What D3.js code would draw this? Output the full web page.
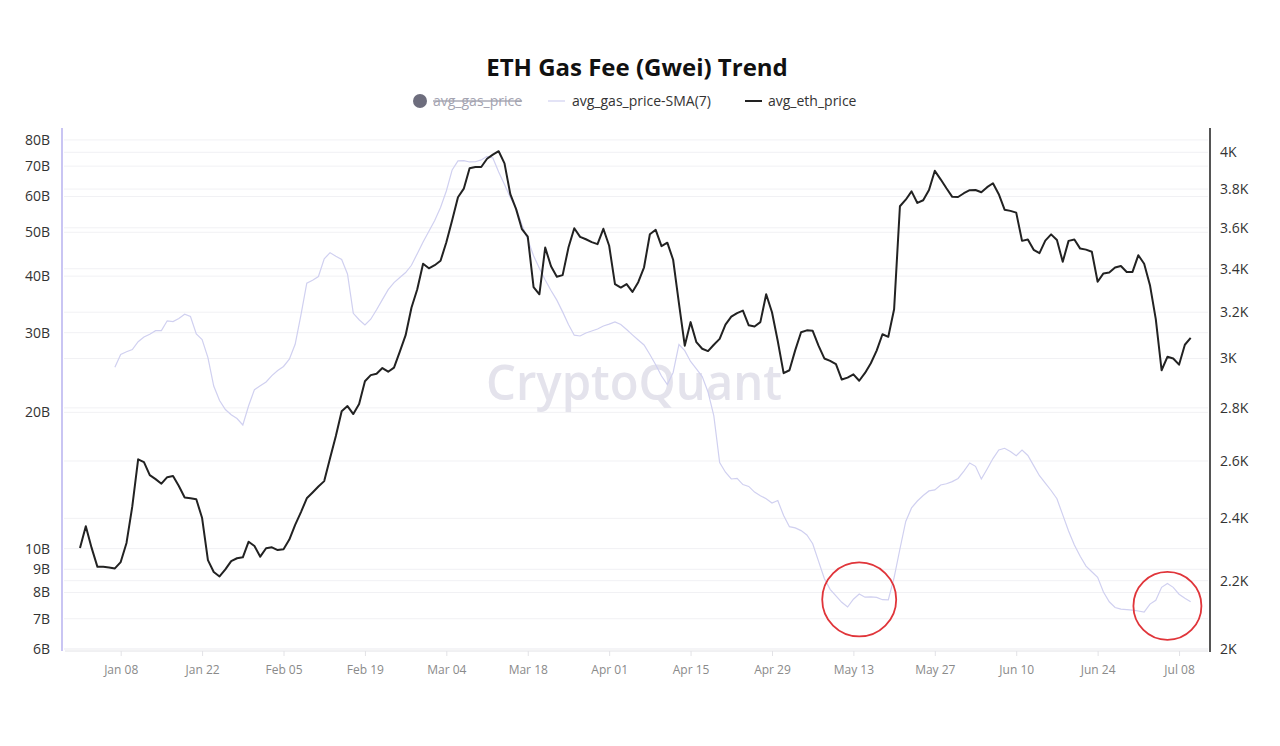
<!DOCTYPE html>
<html><head><meta charset="utf-8">
<script src="https://cdn.jsdelivr.net/npm/d3@7"></script>
<style>
body{margin:0;background:#fff;}
svg{display:block;font-family:"Open Sans","Noto Sans",sans-serif;}
</style></head><body>
<svg id="chart" width="1280" height="746"></svg>
<script>
// ---------------- data ----------------
const firstDay = [2024, 0, 1]; // daily series start (Jan 1, 2024)
const ethPrice = [
2303,2374,2303,2243,2243,2241,2238,2258,2319,2441,
2606,2596,2549,2535,2519,2542,2546,2511,2471,2468,
2465,2401,2264,2227,2213,2235,2261,2270,2273,2323,
2309,2275,2302,2305,2296,2299,2330,2378,2421,2468,
2488,2509,2528,2610,2692,2787,2807,2776,2815,2906,
2931,2937,2960,2945,2962,3029,3099,3220,3304,3424,
3402,3417,3438,3528,3638,3757,3802,3912,3919,3919,
3964,3987,4006,3939,3773,3695,3593,3556,3314,3281,
3502,3412,3362,3370,3502,3598,3555,3543,3529,3519,
3595,3511,3328,3312,3328,3292,3337,3407,3568,3590,
3509,3526,3443,3240,3054,3156,3069,3041,3031,3058,
3083,3145,3180,3196,3207,3142,3137,3156,3281,3200,
3073,2939,2951,3035,3112,3120,3118,3054,3000,2990,
2976,2913,2921,2934,2908,2940,2980,3033,3103,3092,
3213,3710,3744,3788,3727,3741,3795,3898,3852,3804,
3759,3758,3778,3794,3795,3783,3810,3831,3773,3692,
3686,3677,3535,3542,3491,3475,3536,3567,3539,3433,
3535,3542,3497,3492,3482,3339,3378,3382,3406,3413,
3385,3385,3465,3424,3323,3169,2951,3007,3000,2974,
3058,3087
];
const gasSMA = [
null,null,null,null,null,null,25.16,26.85,27.22,27.54,
28.66,29.35,29.77,30.31,30.31,31.87,31.74,32.25,32.96,32.58,
29.80,28.98,26.42,22.87,21.25,20.29,19.76,19.38,18.76,20.68,
22.45,22.89,23.34,24.12,24.75,25.26,26.22,28.28,32.83,38.60,
39.17,39.93,43.68,45.08,44.28,43.54,40.45,33.11,32.04,31.20,
32.13,33.72,35.50,37.34,38.71,39.73,40.74,42.28,44.85,47.57,
50.26,53.10,56.73,61.70,68.66,71.88,71.99,71.51,71.59,72.25,
73.58,72.99,67.97,63.78,59.67,56.45,51.95,48.16,44.37,41.64,
39.23,37.17,35.40,33.35,31.28,29.62,29.50,29.95,30.26,30.57,
31.04,31.33,31.68,31.28,30.48,29.67,28.91,28.18,26.85,25.48,
24.07,23.05,24.50,28.25,27.38,25.91,24.94,24.00,22.19,19.64,
15.50,14.75,14.25,14.29,13.85,13.72,13.33,13.09,12.89,12.61,
12.77,11.83,11.18,11.11,10.96,10.72,10.25,9.38,8.59,8.13,
7.86,7.61,7.43,7.73,7.94,7.81,7.82,7.80,7.71,7.70,
8.63,9.98,11.48,12.30,12.74,13.10,13.41,13.48,13.82,13.91,
14.06,14.29,14.84,15.46,15.20,14.25,14.99,15.81,16.52,16.66,
16.39,16.05,16.50,16.06,15.25,14.49,13.96,13.44,12.89,11.87,
10.94,10.19,9.62,9.15,8.89,8.64,8.02,7.63,7.41,7.35,
7.33,7.31,7.28,7.24,7.54,7.69,8.21,8.37,8.21,7.93,
7.77,7.63
];
const gasTicks = [6,7,8,9,10,20,30,40,50,60,70,80];
const ethTicks = [2000,2200,2400,2600,2800,3000,3200,3400,3600,3800,4000];
const ethTickLabels = ["2K","2.2K","2.4K","2.6K","2.8K","3K","3.2K","3.4K","3.6K","3.8K","4K"];
const xTickDates = ["2024-01-08","2024-01-22","2024-02-05","2024-02-19","2024-03-04","2024-03-18","2024-04-01","2024-04-15","2024-04-29","2024-05-13","2024-05-27","2024-06-10","2024-06-24","2024-07-08"];
const xTickLabels = ["Jan 08","Jan 22","Feb 05","Feb 19","Mar 04","Mar 18","Apr 01","Apr 15","Apr 29","May 13","May 27","Jun 10","Jun 24","Jul 08"];
const highlightDates = ["2024-05-14","2024-07-06"];
const highlightGas = [7.72, 7.47];
const titleText = "ETH Gas Fee (Gwei) Trend";
const legendNames = ["avg_gas_price","avg_gas_price-SMA(7)","avg_eth_price"];

// ---------------- chart ----------------
const svg = d3.select("#chart");
const L = 64, R = 1208, T = 128, B = 649;
const parse = s => { const [y,m,d] = s.split("-").map(Number); return new Date(y, m-1, d); };
const dayDate = i => new Date(firstDay[0], firstDay[1], firstDay[2] + i);

const x = d3.scaleTime()
  .domain([new Date(2023, 11, 29, 6), new Date(2024, 6, 12, 23, 30)])
  .range([L, R]);
const yGas = d3.scaleLog().domain([6, 85]).range([B, T]);
const yEth = d3.scaleLog().domain([2000, 4138]).range([B, T]);

// gridlines
const grid = svg.append("g");
gasTicks.forEach(v => grid.append("line").attr("x1", L).attr("x2", R)
  .attr("y1", yGas(v)).attr("y2", yGas(v)).attr("stroke", "#f1f1f4").attr("stroke-width", 1));
ethTicks.forEach(v => grid.append("line").attr("x1", L).attr("x2", R)
  .attr("y1", yEth(v)).attr("y2", yEth(v)).attr("stroke", "#f1f1f4").attr("stroke-width", 1));

// watermark
svg.append("text").attr("x", 634).attr("y", 400).attr("text-anchor", "middle")
  .attr("font-size", 49).attr("font-weight", 600).attr("fill", "#e4e3ec")
  .attr("textLength", 296).attr("lengthAdjust", "spacingAndGlyphs")
  .text("CryptoQuant");

// x axis
const xAxis = d3.axisBottom(x).tickValues(xTickDates.map(parse))
  .tickFormat((d, i) => xTickLabels[i]).tickSize(5).tickPadding(9);
const gx = svg.append("g").attr("transform", `translate(0,${B + 2})`).call(xAxis);
gx.select(".domain").attr("stroke", "#e2e2e6").attr("d", `M${L+1},0H${R}`);
gx.selectAll(".tick line").attr("stroke", "#e2e2e6");
gx.selectAll(".tick text").attr("fill", "#8a8a8a").attr("font-size", 12)
  .attr("font-family", '"Open Sans","Noto Sans",sans-serif');

// left axis
const yAxisL = d3.axisLeft(yGas).tickValues(gasTicks).tickFormat(d => d + "B").tickSize(0).tickPadding(12);
const gl = svg.append("g").attr("transform", `translate(${L - 2},0)`).call(yAxisL);
gl.select(".domain").attr("stroke", "#c9c5f3").attr("stroke-width", 2).attr("d", `M0,${T}V${B + 2}`);
gl.selectAll(".tick text").attr("fill", "#333").attr("font-size", 14)
  .attr("font-family", '"Open Sans","Noto Sans",sans-serif');

// right axis
const yAxisR = d3.axisRight(yEth).tickValues(ethTicks).tickFormat((d, i) => ethTickLabels[i]).tickSize(0).tickPadding(10);
const gr = svg.append("g").attr("transform", `translate(${R + 2},0)`).call(yAxisR);
gr.select(".domain").attr("stroke", "#555").attr("stroke-width", 2).attr("d", `M0,${T}V${B + 3}`);
gr.selectAll(".tick text").attr("fill", "#333").attr("font-size", 14)
  .attr("font-family", '"Open Sans","Noto Sans",sans-serif');

// SMA line
const gasPts = gasSMA.map((v, i) => ({ d: dayDate(i), v }));
svg.append("path").datum(gasPts)
  .attr("fill", "none").attr("stroke", "#d0d0f0").attr("stroke-width", 1.2)
  .attr("d", d3.line().defined(p => p.v != null).x(p => x(p.d)).y(p => yGas(p.v)));

// ETH price line
const ethPts = ethPrice.map((v, i) => ({ d: dayDate(i), v }));
svg.append("path").datum(ethPts)
  .attr("fill", "none").attr("stroke", "#222").attr("stroke-width", 2).attr("stroke-linejoin", "round")
  .attr("d", d3.line().x(p => x(p.d)).y(p => yEth(p.v)));

// highlight circles
const radii = [37, 34];
highlightDates.forEach((s, i) => {
  svg.append("circle").attr("cx", x(parse(s))).attr("cy", yGas(highlightGas[i])).attr("r", radii[i])
    .attr("fill", "none").attr("stroke", "#e0353a").attr("stroke-width", 1.8);
});

// title
svg.append("text").attr("x", 637).attr("y", 76).attr("text-anchor", "middle")
  .attr("font-size", 24).attr("font-weight", 700).attr("fill", "#111").text(titleText);

// legend
const lg = svg.append("g");
lg.append("circle").attr("cx", 420).attr("cy", 101).attr("r", 7).attr("fill", "#6d6d7d");
lg.append("text").attr("x", 433).attr("y", 106).attr("font-size", 14).attr("fill", "#a3a3b0")
  .attr("text-decoration", "line-through").text(legendNames[0]);
lg.append("line").attr("x1", 548).attr("x2", 565).attr("y1", 101).attr("y2", 101)
  .attr("stroke", "#d0d0f0").attr("stroke-width", 1.2);
lg.append("text").attr("x", 572).attr("y", 106).attr("font-size", 14).attr("fill", "#333").text(legendNames[1]);
lg.append("line").attr("x1", 745).attr("x2", 762).attr("y1", 101).attr("y2", 101)
  .attr("stroke", "#222").attr("stroke-width", 2);
lg.append("text").attr("x", 768).attr("y", 106).attr("font-size", 14).attr("fill", "#333").text(legendNames[2]);
</script>
</body></html>
